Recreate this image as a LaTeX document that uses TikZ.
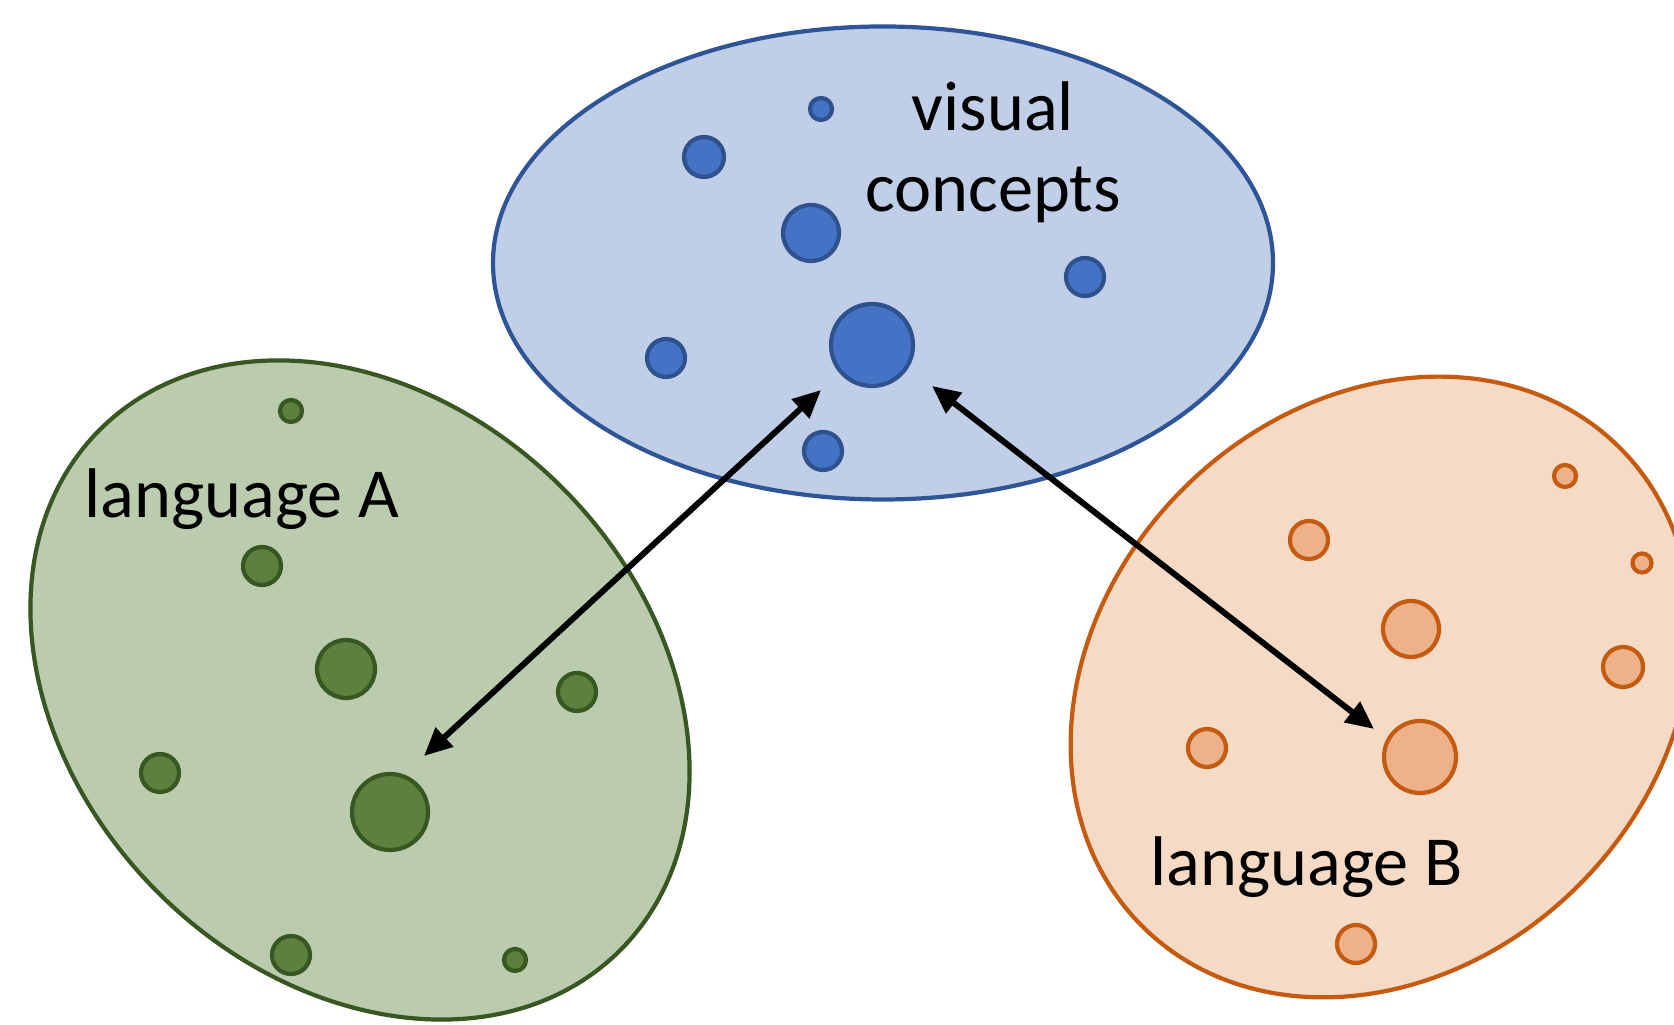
\documentclass[tikz,border=0pt]{standalone}
\usepackage{fontspec}
\setmainfont{Carlito}
\usepackage{xcolor}
\usetikzlibrary{shapes,arrows.meta,positioning}

\definecolor{visfill}{RGB}{192,206,232}
\definecolor{visline}{RGB}{47,85,151}
\definecolor{visdot}{RGB}{68,114,196}
\definecolor{visdotline}{RGB}{47,82,143}
\definecolor{afill}{RGB}{187,203,174}
\definecolor{aline}{RGB}{56,87,35}
\definecolor{adot}{RGB}{94,128,62}
\definecolor{bfill}{RGB}{245,218,198}
\definecolor{bline}{RGB}{197,90,17}
\definecolor{bdot}{RGB}{237,178,137}

\begin{document}
\begin{tikzpicture}[
    space/.style={ellipse, line width=1.2pt, inner sep=0pt},
    dot/.style={circle, line width=1.2pt, inner sep=0pt},
    tag/.style={font=\fontsize{20}{23}\selectfont, inner sep=0pt, text=black}
]
\useasboundingbox (0,0) rectangle (16.74,10.25);

% Spaces
\node[space, draw=visline, fill=visfill, minimum width=7.8cm, minimum height=4.73cm] (vis) at (8.83, 7.62) {};
\node[space, draw=aline, fill=afill, minimum width=7.36cm, minimum height=5.72cm, rotate=-45] (langA) at (3.60, 3.35) {};
\node[space, draw=bline, fill=bfill, minimum width=6.76cm, minimum height=5.60cm, rotate=45] (langB) at (13.81, 3.38) {};

% Visual concepts
\node[dot, draw=visdotline, fill=visdot, minimum size=0.22cm] (v1) at (8.21, 9.16) {};
\node[dot, draw=visdotline, fill=visdot, minimum size=0.40cm] (v2) at (7.04, 8.68) {};
\node[dot, draw=visdotline, fill=visdot, minimum size=0.56cm] (v3) at (8.11, 7.92) {};
\node[dot, draw=visdotline, fill=visdot, minimum size=0.38cm] (v4) at (10.85, 7.48) {};
\node[dot, draw=visdotline, fill=visdot, minimum size=0.82cm] (bigV) at (8.72, 6.80) {};
\node[dot, draw=visdotline, fill=visdot, minimum size=0.38cm] (v6) at (6.66, 6.67) {};
\node[dot, draw=visdotline, fill=visdot, minimum size=0.38cm] (v7) at (8.23, 5.74) {};

% Language A
\node[dot, draw=aline, fill=adot, minimum size=0.22cm] (a1) at (2.91, 6.14) {};
\node[dot, draw=aline, fill=adot, minimum size=0.38cm] (a2) at (2.62, 4.59) {};
\node[dot, draw=aline, fill=adot, minimum size=0.58cm] (a3) at (3.46, 3.56) {};
\node[dot, draw=aline, fill=adot, minimum size=0.38cm] (a4) at (5.77, 3.33) {};
\node[dot, draw=aline, fill=adot, minimum size=0.38cm] (a5) at (1.60, 2.52) {};
\node[dot, draw=aline, fill=adot, minimum size=0.76cm] (bigA) at (3.90, 2.13) {};
\node[dot, draw=aline, fill=adot, minimum size=0.38cm] (a7) at (2.91, 0.70) {};
\node[dot, draw=aline, fill=adot, minimum size=0.22cm] (a8) at (5.15, 0.65) {};

% Language B
\node[dot, draw=bline, fill=bdot, minimum size=0.22cm] (b1) at (15.65, 5.49) {};
\node[dot, draw=bline, fill=bdot, minimum size=0.38cm] (b2) at (13.09, 4.85) {};
\node[dot, draw=bline, fill=bdot, minimum size=0.19cm] (b3) at (16.42, 4.62) {};
\node[dot, draw=bline, fill=bdot, minimum size=0.56cm] (b4) at (14.11, 3.96) {};
\node[dot, draw=bline, fill=bdot, minimum size=0.40cm] (b5) at (16.23, 3.58) {};
\node[dot, draw=bline, fill=bdot, minimum size=0.38cm] (b6) at (12.07, 2.77) {};
\node[dot, draw=bline, fill=bdot, minimum size=0.72cm] (bigB) at (14.20, 2.68) {};
\node[dot, draw=bline, fill=bdot, minimum size=0.38cm] (b8) at (13.56, 0.81) {};

% Labels
\node[tag, align=center] (visLabel) at (9.93, 8.73) {visual\\concepts};
\node[tag, anchor=base west] (langAlabel) at (0.84, 5.07) {language A};
\node[tag, anchor=base west] (langBlabel) at (11.50, 1.39) {language B};

% Arrow ends
\coordinate (tipA) at (4.24, 2.69);
\coordinate (tipV1) at (8.21, 6.35);
\coordinate (tipV2) at (9.32, 6.39);
\coordinate (tipB) at (13.74, 2.96);

% Mappings
\draw[<->, >={Triangle[length=0.28cm, width=0.25cm]}, line width=1.7pt] (tipA) -- (tipV1);
\draw[<->, >={Triangle[length=0.28cm, width=0.25cm]}, line width=1.7pt] (tipV2) -- (tipB);

\end{tikzpicture}
\end{document}
